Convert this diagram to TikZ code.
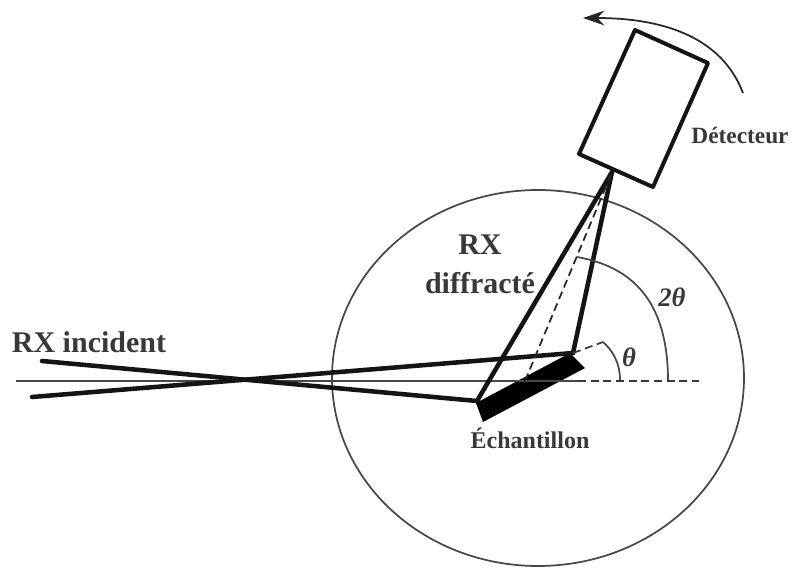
\documentclass[tikz,border=0pt]{standalone}
\usepackage{xcolor}
\usepackage{fontspec}
\setmainfont{Liberation Serif}
\usepackage{tikz}
\usetikzlibrary{arrows.meta, positioning, calc}

\begin{document}
\begin{tikzpicture}[
  x=0.75pt, y=-0.75pt,
  beam/.style={line width=3.4pt, line cap=round, draw=black!92},
  thin line/.style={line width=1.3pt, draw=black!72},
  guide/.style={line width=1.3pt, draw=black!78, dash pattern=on 6pt off 3.5pt},
  lbl/.style={text=black!78, inner sep=0pt, align=center},
]
\useasboundingbox (0,0) rectangle (794,568);

\coordinate (beamA) at (42,361);
\coordinate (beamB) at (32,397);
\coordinate (hitL) at (477,401);
\coordinate (hitR) at (573,353);
\coordinate (focus) at (612,172);
\coordinate (axisL) at (16,381);
\coordinate (axisM) at (578,381);
\coordinate (axisR) at (699,381);
\coordinate (mid) at (525,381);
\coordinate (center) at (538,378);

% circle
\draw[thin line] (center) ellipse [x radius=206, y radius=188];

% sample and detector
\fill[black] (476,403) -- (570,353) -- (585,368) -- (483,422) -- cycle;
\draw[line width=3pt, draw=black!92, line join=round] (635,30) -- (708,63) -- (653,187) -- (579,154) -- cycle;

% beams
\draw[thin line] (axisL) -- (axisM);
\draw[guide] (axisM) -- (axisR);
\draw[beam] (beamA) -- (hitL);
\draw[beam] (beamB) -- (hitR);
\draw[beam] (hitL) -- (focus);
\draw[beam] (hitR) -- (focus);
\draw[guide, draw=black!85] (mid) -- (focus);

% angles
\draw[thin line] (577,257) .. controls (640,268) and (668,310) .. (668,381);
\draw[guide] (hitR) -- (603,342);
\draw[thin line] (603,342) .. controls (612,350) and (620,362) .. (620,380);

% rotation
\draw[line width=1.3pt, draw=black!85, -{Stealth[length=16pt, width=11pt]}] (743,93) .. controls (722,38) and (665,18) .. (583,18);

\node[lbl, font=\bfseries\fontsize{22.5}{24}\selectfont] (incident) at (89,342) {RX incident};
\node[lbl, font=\bfseries\fontsize{22.5}{28}\selectfont] (diffracte) at (480,264) {RX\\[1pt]diffracté};
\node[lbl, font=\bfseries\fontsize{17.5}{20}\selectfont] (detecteur) at (740,136) {Détecteur};
\node[lbl, font=\bfseries\fontsize{18}{20}\selectfont] (echantillon) at (530,438) {Échantillon};
\node[lbl, font=\bfseries\itshape\fontsize{20}{22}\selectfont] (twotheta) at (672,297) {2θ};
\node[lbl, font=\bfseries\itshape\fontsize{20}{22}\selectfont] (theta) at (629,357) {θ};
\end{tikzpicture}
\end{document}
